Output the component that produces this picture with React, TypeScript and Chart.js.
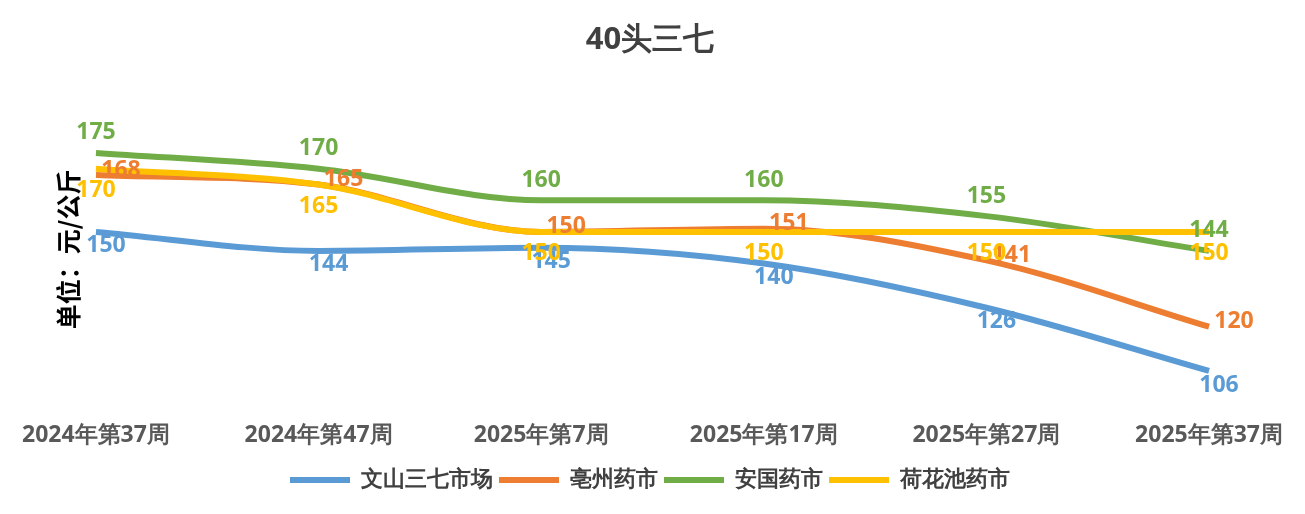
import React, { useEffect, useRef } from "react";
import { Chart, registerables } from "chart.js";
Chart.register(...registerables);

const categories = ["2024年第37周", "2024年第47周", "2025年第7周", "2025年第17周", "2025年第27周", "2025年第37周"];
const wenshan = [150, 144, 145, 140, 126, 106];
const bozhou = [168, 165, 150, 151, 141, 120];
const anguo = [175, 170, 160, 160, 155, 144];
const hehuachi = [170, 165, 150, 150, 150, 150];

const seriesNames = ["文山三七市场", "亳州药市", "安国药市", "荷花池药市"];
const colors = ["#5B9BD5", "#ED7D31", "#70AD47", "#FFC000"];
const labelOffsets = [[10, 14], [25, -5], [0, -20], [0, 22]];

const labelPlugin = {
  id: "pointLabels",
  afterDatasetsDraw(chart: any) {
    const ctx = chart.ctx;
    ctx.save();
    ctx.font = "bold 23px 'Noto Sans', sans-serif";
    ctx.textAlign = "center";
    ctx.textBaseline = "middle";
    chart.data.datasets.forEach((ds: any, i: number) => {
      const meta = chart.getDatasetMeta(i);
      meta.data.forEach((pt: any, j: number) => {
        ctx.fillStyle = colors[i];
        ctx.fillText(String(ds.data[j]), pt.x + labelOffsets[i][0], pt.y + labelOffsets[i][1]);
      });
    });
    ctx.restore();
  },
};

export default function App() {
  const ref = useRef<HTMLCanvasElement>(null);
  useEffect(() => {
    const data = [wenshan, bozhou, anguo, hehuachi];
    const chart = new Chart(ref.current!, {
      type: "line",
      data: {
        labels: categories,
        datasets: data.map((d, i) => ({
          label: seriesNames[i],
          data: d,
          borderColor: colors[i],
          backgroundColor: colors[i],
          borderWidth: 6,
          pointRadius: 0,
          cubicInterpolationMode: "monotone" as const,
          order: i === 3 ? 0 : i + 1,
        })),
      },
      options: {
        animation: false,
        responsive: false,
        layout: { padding: { left: 0, right: 5, top: 0, bottom: 5 } },
        plugins: {
          title: {
            display: true,
            text: "40头三七",
            color: "#404040",
            font: { size: 31, weight: "bold", family: "'Noto Sans', sans-serif" },
            padding: { top: 14, bottom: 40 },
          },
          legend: {
            position: "bottom",
            labels: {
              usePointStyle: true,
              pointStyle: "line",
              pointStyleWidth: 60,
              boxHeight: 5,
              color: "#404040",
              font: { size: 22, weight: "bold", family: "'Noto Sans', sans-serif" },
              padding: 6,
              generateLabels: (c: any) =>
                c.data.datasets.map((ds: any, i: number) => ({
                  text: ds.label,
                  strokeStyle: colors[i],
                  fillStyle: colors[i],
                  lineWidth: 6,
                  pointStyle: "line",
                  datasetIndex: i,
                  fontColor: "#404040",
                })),
            },
          },
          tooltip: { enabled: false },
        },
        scales: {
          x: {
            offset: false,
            grid: { display: false },
            border: { display: false },
            ticks: { color: "#595959", maxRotation: 0, font: { size: 23, weight: "bold", family: "'Noto Sans', sans-serif" }, padding: 14 },
          },
          y: {
            min: 97,
            max: 192,
            grid: { display: false },
            border: { display: false },
            ticks: { display: false },
            title: {
              display: true,
              text: "单位：元/公斤",
              color: "#000",
              font: { size: 25, weight: "bold", family: "'Noto Sans CJK SC', sans-serif" },
            },
          },
        },
      },
      plugins: [labelPlugin],
    });
    return () => chart.destroy();
  }, []);
  return <canvas ref={ref} width={1289} height={498} style={{ display: "block" }} />;
}
